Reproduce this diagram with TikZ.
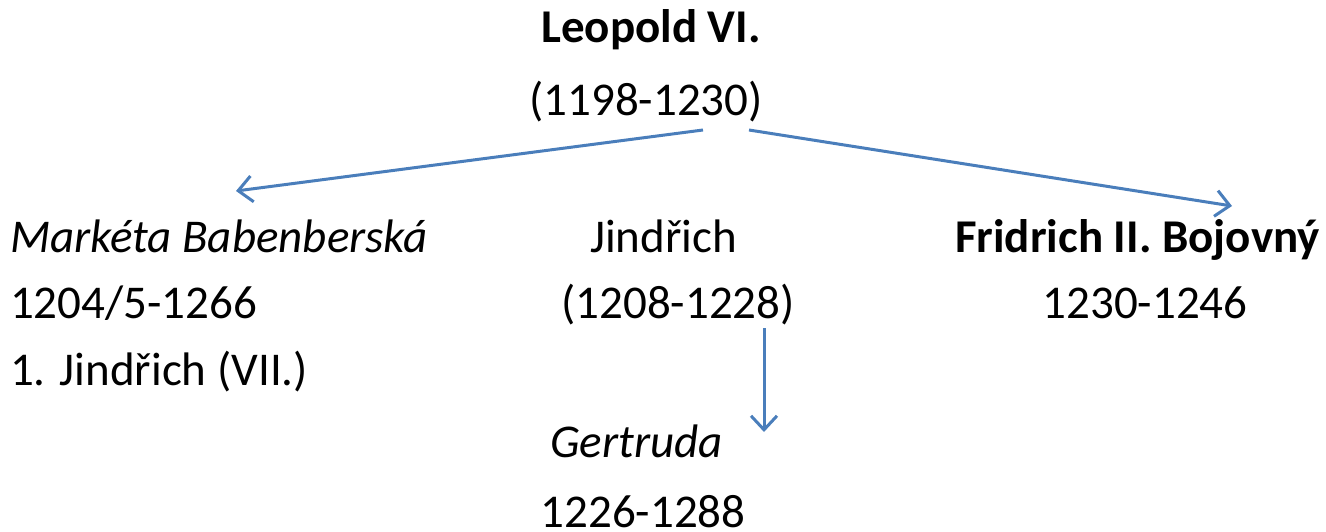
\documentclass[tikz,border=0pt]{standalone}
\usepackage{fontspec}
\setmainfont{Carlito}
\usetikzlibrary{arrows.meta}
\definecolor{arrowblue}{HTML}{4A7EBB}
\begin{document}
\begin{tikzpicture}[x=1pt,y=-1pt,
  txt/.style={inner sep=0pt,outer sep=0pt,anchor=base,font=\fontsize{47}{56}\selectfont},
  txtl/.style={txt,anchor=base west},
  conn/.style={draw=arrowblue,line width=3pt,-{Straight Barb[length=14pt,width=26pt,line width=3pt]}}]
\useasboundingbox (0,0) rectangle (1326,532);
\node[txt,font=\fontsize{47}{56}\selectfont\bfseries] (leo) at (651,43) {Leopold VI.};
\node[txt] (leoy) at (646,116) {(1198-1230)};
\node[txtl,font=\fontsize{47}{56}\selectfont\itshape] (mar) at (10,252) {Markéta Babenberská};
\node[txtl] (mary) at (10,318) {1204/5-1266};
\node[txtl] (marh) at (10,385) {1. Jindřich (VII.)};
\node[txt] (jin) at (663.5,252) {Jindřich};
\node[txt] (jiny) at (678,318) {(1208-1228)};
\node[txt,font=\fontsize{47}{56}\selectfont\bfseries] (fri) at (1137.5,252) {Fridrich II. Bojovný};
\node[txt] (friy) at (1145,318) {1230-1246};
\node[txt,font=\fontsize{47}{56}\selectfont\itshape] (ger) at (636.5,457) {Gertruda};
\node[txt] (gery) at (643,527) {1226-1288};
\coordinate (s1) at (703,130);
\coordinate (t1) at (236,191);
\coordinate (s2) at (749,130);
\coordinate (t2) at (1232,206);
\coordinate (s3) at (764,328);
\coordinate (t3) at (764,432);
\draw[conn] (s1) -- (t1);
\draw[conn] (s2) -- (t2);
\draw[conn] (s3) -- (t3);
\end{tikzpicture}
\end{document}
